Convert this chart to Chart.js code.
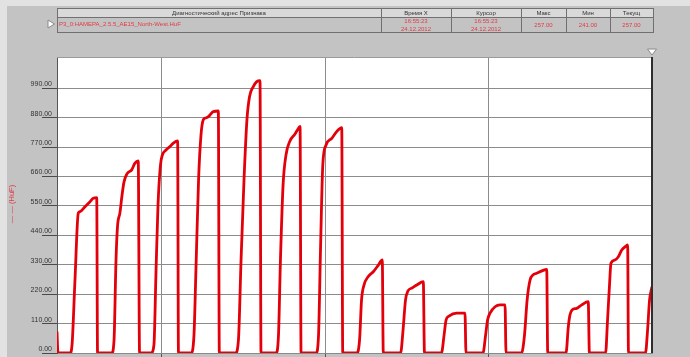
<!DOCTYPE html>
<html>
<head>
<meta charset="utf-8">
<script src="https://cdn.jsdelivr.net/npm/chart.js@4"></script>
<style>
html,body{margin:0;padding:0;background:#d6d6d6;}
#wrap{position:relative;width:690px;height:357px;}
</style>
</head>
<body>
<div id="wrap"><canvas id="chartTrend"></canvas></div>
<script>
/*====================================================
 trend: канал P3_0
====================================================*/

//=====================================================
// DATA
//=====================================================

// time (axis units) and value of each sample
const time=[
36,36.6,44,45.2,47,49,50.1,53.1,56.2,58.2,60.3,60.8,
69.5,70.9,72.1,73,74.5,75.8,77,78.8,81.7,83.7,85.7,86.5,
93.5,95.3,96.6,97.8,99.3,100.5,102.7,105.1,107.2,109.8,110.3,
118,119.8,121,122.6,124.1,125.5,126.9,128.6,131.6,134.7,135.3,
145.2,147,148.6,150.4,152.2,153.8,156.1,158.2,160.2,160.8,
170,171.5,172.7,174.3,176.1,178.5,181.6,183.1,184.7,185.3,
194.5,196,197.2,198.6,200.6,204.1,207.1,210.2,210.8,
219.5,221.1,222.3,223.8,226.3,229.5,232.6,235,235.6,
246.2,247.7,249.2,250.7,253.2,256.1,260.1,260.8,
271.2,272.8,274,275.8,280.5,285.6,286.2,
296.6,298.2,299.4,300.9,304,307,310.1,310.7,
320.2,322,323.6,325.4,327.2,329.5,332.7,335.6,336.2,
347.4,348.8,349.8,351.1,353.9,357,361,361.7,
371.6,372.8,374,374.9,377.4,379.4,381.5,383.5,385.1,385.6,
396,397.3,398.5,400
];

const value=[
80,0,0,30,273,523,529,547,566,579,581,0,
0,49,348,472,524,591,640,670,685,710,718,0,
0,30,311,554,703,741,759,772,785,793,0,
0,67,311,647,816,872,879,884,903,905,0,
0,49,348,647,872,959,996,1015,1019,0,
0,67,348,628,741,793,819,834,847,0,
0,67,385,703,778,803,828,843,0,
0,49,198,254,285,304,329,348,0,
0,86,198,232,243,254,267,0,
0,67,123,138,149,149,0,
0,67,123,149,173,180,180,0,
0,67,198,273,292,298,307,313,0,
0,98,142,161,167,180,192,0,
0,123,254,336,348,360,385,397,404,0,
0,86,198,248
];

const yTicks=[0,110,220,330,440,550,660,770,880,990];
const xTicks=[100,200,300];

const headers=["Диагностический адрес Признака","Время Х","Курсор","Макс","Мин","Текущ"];
const rowCells=[
["P3_0:HAMEPA_2.5.5_AE15_North-West.HuF"],
["16:55:23","24.12.2012"],
["16:55:23","24.12.2012"],
["257.00"],
["241.00"],
["257.00"]
];

const axisTitle="— — (HuF)";

//=====================================================
// COLORS
//=====================================================

const rojo="#e3000b";
const panelGris="#c3c3c3";
const bordeGris="#707070";
const gridGris="#8c8c8c";
const texto="#333333";

// table column edges
const colEdges=[57,381,451,521,566,610,653];

//=====================================================
// PANEL, TABLE AND MARKERS
//=====================================================

const panel={

id:"panel",

beforeDraw(chart){

const ctx=chart.ctx;
const a=chart.chartArea;

ctx.save();
ctx.fillStyle="#e2e2e2";
ctx.fillRect(0,0,chart.width,chart.height);
ctx.fillStyle=panelGris;
ctx.fillRect(7,6,chart.width-7,chart.height-6);
ctx.fillStyle="#ffffff";
ctx.fillRect(a.left,a.top,a.right-a.left,a.bottom-a.top);
ctx.restore();

},

afterDraw(chart){

const ctx=chart.ctx;
const a=chart.chartArea;

ctx.save();

// header row
ctx.fillStyle="#d9d9d9";
ctx.fillRect(colEdges[0],8,colEdges[6]-colEdges[0],9);

ctx.strokeStyle=bordeGris;
ctx.lineWidth=1;
ctx.strokeRect(colEdges[0]+.5,8.5,colEdges[6]-colEdges[0],24);
ctx.beginPath();
ctx.moveTo(colEdges[0],17.5);
ctx.lineTo(colEdges[6],17.5);
for(let i=1;i<colEdges.length-1;i++){
ctx.moveTo(colEdges[i]+.5,8);
ctx.lineTo(colEdges[i]+.5,33);
}
ctx.stroke();

ctx.font="6px 'Liberation Sans', Arial, sans-serif";
ctx.textBaseline="middle";

headers.forEach((h,i)=>{
ctx.fillStyle=texto;
ctx.textAlign="center";
ctx.fillText(h,(colEdges[i]+colEdges[i+1])/2,13);
});

rowCells.forEach((cell,i)=>{
ctx.fillStyle="#e23a44";
if(i===0){
ctx.textAlign="left";
ctx.fillText(cell[0],colEdges[0]+2,24);
}else if(cell.length===2){
ctx.textAlign="center";
ctx.fillText(cell[0],(colEdges[i]+colEdges[i+1])/2,21);
ctx.fillText(cell[1],(colEdges[i]+colEdges[i+1])/2,29);
}else{
ctx.textAlign="center";
ctx.fillText(cell[0],(colEdges[i]+colEdges[i+1])/2,25);
}
});

// row marker
ctx.fillStyle="#ffffff";
ctx.strokeStyle="#8a8a8a";
ctx.beginPath();
ctx.moveTo(48,20);
ctx.lineTo(48,28);
ctx.lineTo(54.5,24);
ctx.closePath();
ctx.fill();
ctx.stroke();

// plot frame: top and right
ctx.strokeStyle="#9a9a9a";
ctx.beginPath();
ctx.moveTo(a.left,a.top+.5);
ctx.lineTo(a.right,a.top+.5);
ctx.stroke();

ctx.strokeStyle="#2e2e2e";
ctx.lineWidth=2;
ctx.beginPath();
ctx.moveTo(a.right,a.top);
ctx.lineTo(a.right,a.bottom);
ctx.stroke();

// cursor marker
ctx.lineWidth=1;
ctx.fillStyle="#ffffff";
ctx.strokeStyle="#8a8a8a";
ctx.beginPath();
ctx.moveTo(a.right-4.5,49);
ctx.lineTo(a.right+4.5,49);
ctx.lineTo(a.right,55);
ctx.closePath();
ctx.fill();
ctx.stroke();

// axis title
ctx.translate(12,204);
ctx.rotate(-Math.PI/2);
ctx.fillStyle="#e23a44";
ctx.font="7.5px 'Liberation Sans', Arial, sans-serif";
ctx.textAlign="center";
ctx.textBaseline="middle";
ctx.fillText(axisTitle,0,0);

ctx.restore();

}

};

//=====================================================
// TREND
//=====================================================

new Chart(document.getElementById("chartTrend"),{

type:"line",

data:{

datasets:[{

data:time.map((t,i)=>({x:t,y:value[i]})),

borderColor:rojo,

borderWidth:2.8,

pointRadius:0,

cubicInterpolationMode:"monotone",

borderJoinStyle:"round"

}]

},

options:{

responsive:true,

maintainAspectRatio:false,

animation:false,

events:[],

layout:{

padding:{top:57,right:38,left:0,bottom:0}

},

plugins:{

legend:{display:false},

tooltip:{enabled:false}

},

scales:{

x:{

type:"linear",

min:36,

max:400,

afterBuildTicks:(s)=>{s.ticks=xTicks.map(v=>({value:v}));},

afterFit:(s)=>{s.height=4;},

ticks:{display:false},

grid:{color:gridGris,tickLength:4,tickColor:"#555555"},

border:{color:"#8a8a8a"}

},

y:{

min:0,

max:1107,

afterBuildTicks:(s)=>{s.ticks=yTicks.map(v=>({value:v}));},

afterFit:(s)=>{s.width=57;},

ticks:{

callback:(v)=>Number(v).toFixed(2),

color:texto,

font:{family:"'Liberation Sans', Arial, sans-serif",size:7},

padding:-10,

labelOffset:-4,

autoSkip:false

},

grid:{color:gridGris,tickLength:15,tickColor:"#4a4a4a"},

border:{color:"#555555"}

}

}

},

plugins:[panel]

});

</script>
</body>
</html>
